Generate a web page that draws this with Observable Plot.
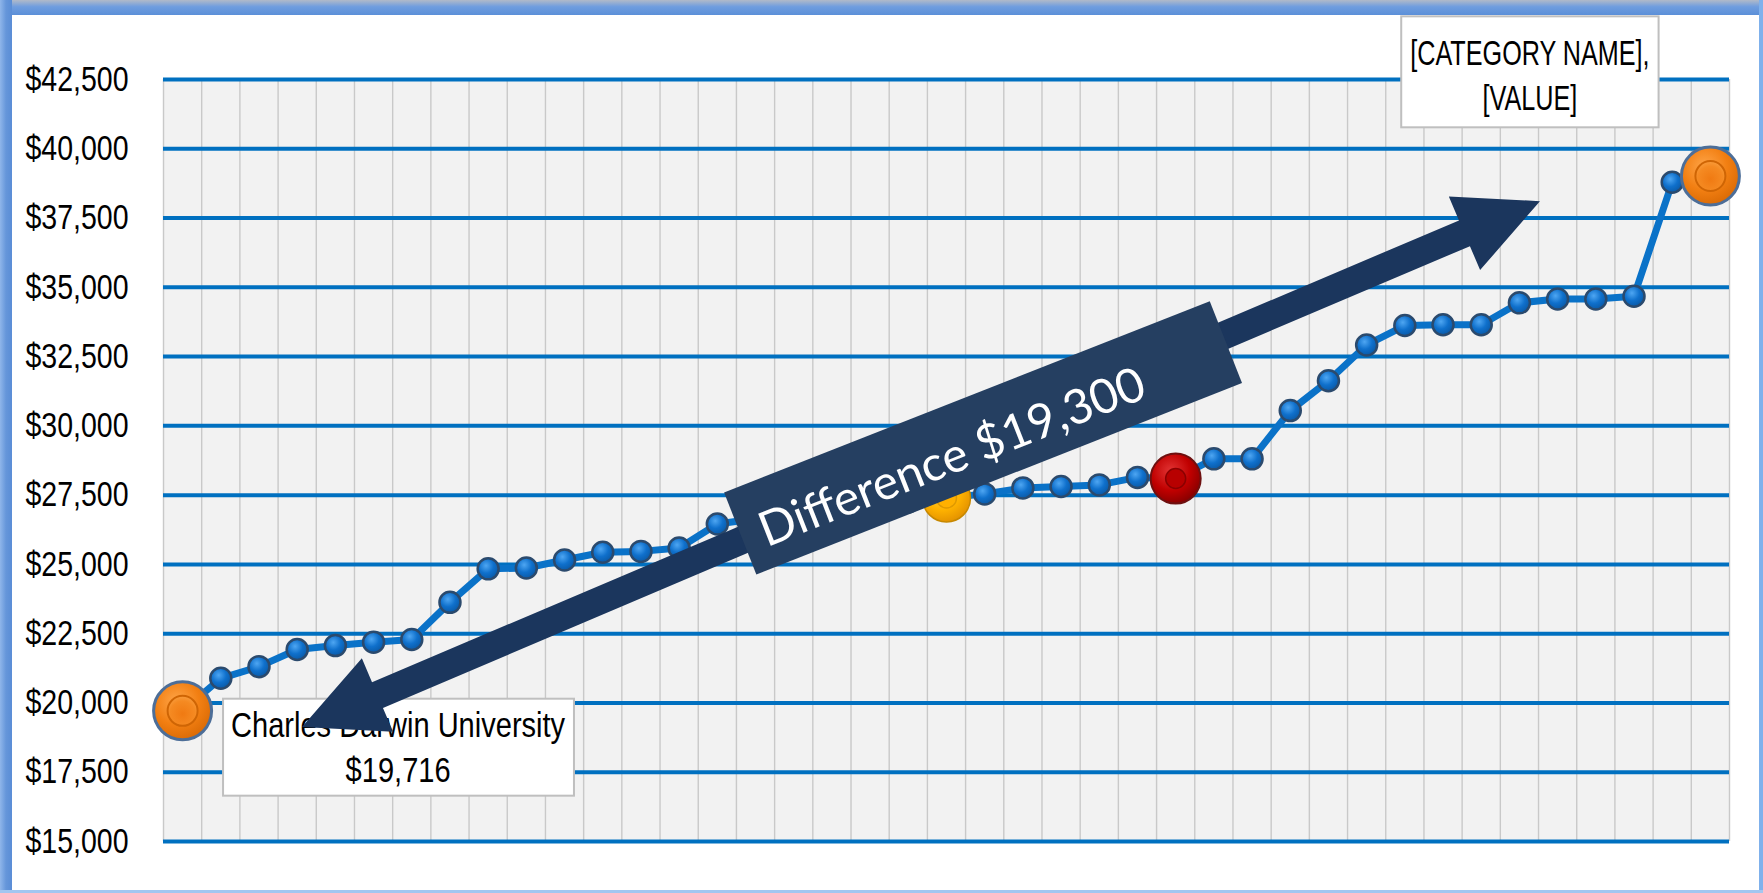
<!DOCTYPE html>
<html>
<head>
<meta charset="utf-8">
<script src="https://cdn.jsdelivr.net/npm/d3@7"></script>
<script src="https://cdn.jsdelivr.net/npm/@observablehq/plot@0.6"></script>
<style>
  html, body { margin: 0; padding: 0; background: #ffffff; overflow: hidden; }
  #chart svg { display: block; }
</style>
</head>
<body>
<div id="chart"></div>
<script>
// ---------------- data ----------------
const rank = [1, 2, 3, 4, 5, 6, 7, 8, 9, 10, 11, 12, 13, 14, 15, 16, 17, 18, 19, 20,
  21, 22, 23, 24, 25, 26, 27, 28, 29, 30, 31, 32, 33, 34, 35, 36, 37, 38, 39, 40, 41];
const salary = [19716, 20890, 21310, 21930, 22070, 22190, 22290, 23630, 24840, 24870,
  25160, 25440, 25470, 25590, 26460, 26650, 26800, 26950, 27100, 27250,
  27400, 27545, 27760, 27810, 27870, 28140, 28100, 28810, 28810, 30550,
  31630, 32920, 33620, 33650, 33650, 34440, 34580, 34580, 34680, 38790, 39016];
const yTicks = [15000, 17500, 20000, 22500, 25000, 27500, 30000, 32500, 35000, 37500, 40000, 42500];
const orangeRanks = [1, 41];
const yellowRanks = [21];
const redRanks = [27];
const calloutRanks = [1, 41];
const calloutTexts = ["Charles Darwin University\n$19,716", "[CATEGORY NAME],\n[VALUE]"];
const arrowFrom = {rank: 4.14, salary: 19110};
const arrowTo = {rank: 36.55, salary: 38090};
const bannerCenter = {rank: 21.97, salary: 29550};
const bannerText = "Difference $19,300";

// ---------------- layout / style ----------------
const W = 1763, H = 893;
const NARROW = "'Liberation Sans', Arial, sans-serif";
const TICK_SQUEEZE = 0.815;
const calloutDx = [216, -180];
const calloutDy = [35, -102];
const calloutSqueeze = [0.83, 0.72];
const calloutPadTop = [7, 17];
const calloutPadBottom = [6, 9];
const calloutPadX = [8, 9];

const data = rank.map((r, i) => ({rank: r, salary: salary[i]}));
const special = new Set([...orangeRanks, ...yellowRanks, ...redRanks]);
const blueData = data.filter(d => !special.has(d.rank));
const pick = rs => data.filter(d => rs.includes(d.rank));
const edges = rank.map(r => r - 0.5).concat([rank[rank.length - 1] + 0.5]);
const callouts = calloutRanks.map((r, i) => ({
  rank: r, salary: salary[rank.indexOf(r)], text: calloutTexts[i]
}));
const fmt = d3.format("$,");

const plot = Plot.plot({
  width: W,
  height: H,
  marginLeft: 163,
  marginRight: 34,
  marginTop: 79,
  marginBottom: 52,
  x: {type: "linear", domain: [edges[0], edges[edges.length - 1]], axis: null},
  y: {type: "linear", domain: [yTicks[0], yTicks[yTicks.length - 1]], axis: null},
  style: {background: "#ffffff", color: "#000000", fontFamily: NARROW, fontSize: "35px", overflow: "visible"},
  marks: [
    Plot.frame({fill: "#f2f2f2", stroke: null}),
    Plot.ruleX(edges, {x: d => d, stroke: "#c9c9c9", strokeWidth: 1.4}),
    Plot.ruleY(yTicks, {y: d => d, stroke: "#0070c0", strokeWidth: 4}),
    Plot.text(yTicks, {y: d => d, text: d => fmt(d), frameAnchor: "left",
      textAnchor: "end", dx: -35, fontSize: 35, fill: "#000000", fontFamily: NARROW}),
    Plot.line(data, {x: "rank", y: "salary", stroke: "#0a72c8", strokeWidth: 7, strokeLinejoin: "round"}),
    Plot.dot(blueData, {x: "rank", y: "salary", r: 10.5, fill: "url(#gBlue)", stroke: "#2b4a6d", strokeWidth: 2.5}),
    Plot.dot(pick(yellowRanks), {x: "rank", y: "salary", r: 24, fill: "url(#gYellow)", stroke: "#c78800", strokeWidth: 1.5}),
    Plot.dot(pick(yellowRanks), {x: "rank", y: "salary", r: 10, fill: "#ffb000", stroke: "#e09a00", strokeWidth: 1.5}),
    Plot.dot(pick(redRanks), {x: "rank", y: "salary", r: 25, fill: "url(#gRed)", stroke: "#6e1010", strokeWidth: 2}),
    Plot.dot(pick(redRanks), {x: "rank", y: "salary", r: 10, fill: "#b80000", stroke: "#8a0000", strokeWidth: 1.5}),
    Plot.dot(pick(orangeRanks), {x: "rank", y: "salary", r: 29, fill: "url(#gOrange)", stroke: "#4d6e98", strokeWidth: 3}),
    Plot.dot(pick(orangeRanks), {x: "rank", y: "salary", r: 15, fill: "url(#gOrangeIn)", stroke: "#cf6504", strokeWidth: 2}),
    Plot.text(callouts, {x: "rank", y: "salary", text: "text",
      fontSize: 35, lineHeight: 1.28, textAnchor: "middle", lineAnchor: "middle", fill: "#000000", fontFamily: NARROW})
  ]
});

document.getElementById("chart").appendChild(plot);

const svg = d3.select(plot);
const xs = plot.scale("x"), ys = plot.scale("y");
const X = v => xs.apply(v), Y = v => ys.apply(v);

// ---------- defs ----------
const defs = svg.insert("defs", ":first-child");
function radial(id, stops, cx = "40%", cy = "35%", r = "65%") {
  const g = defs.append("radialGradient").attr("id", id).attr("cx", cx).attr("cy", cy).attr("r", r);
  stops.forEach(([o, c]) => g.append("stop").attr("offset", o).attr("stop-color", c));
}
function linear(id, x2, y2, stops) {
  const g = defs.append("linearGradient").attr("id", id).attr("x1", 0).attr("y1", 0).attr("x2", x2).attr("y2", y2);
  stops.forEach(([o, c]) => g.append("stop").attr("offset", o).attr("stop-color", c));
}
radial("gBlue", [[0, "#4ea6f2"], [0.55, "#0f70cc"], [1, "#0a5aa8"]]);
radial("gOrange", [[0, "#ffa64a"], [0.6, "#f27f12"], [1, "#dc6c06"]]);
radial("gOrangeIn", [[0, "#f07a12"], [0.7, "#f58a22"], [1, "#f99c3c"]], "50%", "60%", "60%");
radial("gRed", [[0, "#e23434"], [0.6, "#c00000"], [1, "#8c0000"]]);
radial("gYellow", [[0, "#ffd850"], [0.6, "#ffb300"], [1, "#e69500"]]);
linear("gTop", 0, 1, [[0, "#b1bac9"], [0.45, "#6f9ddf"], [1, "#5b8fd8"]]);
linear("gLeft", 1, 0, [[0, "#8fb6ea"], [0.5, "#6596da"], [1, "#5a8dd6"]]);

// squeeze a text horizontally around its own anchor (condensed face look-alike)
function squeeze(node, s) {
  const xa = node.getAttribute("x");
  let x = 0;
  if (xa !== null && isFinite(+xa)) { x = +xa; node.removeAttribute("x"); }
  const t = node.getAttribute("transform") || "";
  node.setAttribute("transform", `${t} translate(${x},0) scale(${s},1)`);
}

// ---------- tick labels ----------
const tickStrings = yTicks.map(fmt);
svg.selectAll("text").each(function() {
  if (tickStrings.includes(this.textContent)) squeeze(this, TICK_SQUEEZE);
});

// ---------- callouts ----------
const calloutFlat = callouts.map(c => c.text.replace("\n", ""));
svg.selectAll("g").each(function() {
  const texts = d3.select(this).selectAll(":scope > text").nodes();
  if (texts.some(n => calloutFlat.includes(n.textContent))) this.removeAttribute("transform");
});
svg.selectAll("text").each(function() {
  const k = calloutFlat.indexOf(this.textContent);
  if (k < 0) return;
  const c = callouts[k];
  const s = calloutSqueeze[k];
  const tx = X(c.rank) + calloutDx[k], ty = Y(c.salary) + calloutDy[k];
  this.removeAttribute("x");
  this.removeAttribute("y");
  this.setAttribute("transform", `translate(${tx},${ty}) scale(${s},1)`);
  const bb = this.getBBox();
  const rect = document.createElementNS("http://www.w3.org/2000/svg", "rect");
  rect.setAttribute("x", tx + bb.x * s - calloutPadX[k]);
  rect.setAttribute("y", ty + bb.y - calloutPadTop[k]);
  rect.setAttribute("width", bb.width * s + 2 * calloutPadX[k]);
  rect.setAttribute("height", bb.height + calloutPadTop[k] + calloutPadBottom[k]);
  rect.setAttribute("fill", "#ffffff");
  rect.setAttribute("stroke", "#bfbfbf");
  rect.setAttribute("stroke-width", 2);
  this.parentNode.insertBefore(rect, this);
});

// ---------- double-headed arrow ----------
(function drawArrow() {
  const x1 = X(arrowFrom.rank), y1 = Y(arrowFrom.salary);
  const x2 = X(arrowTo.rank), y2 = Y(arrowTo.salary);
  const L = Math.hypot(x2 - x1, y2 - y1);
  const ux = (x2 - x1) / L, uy = (y2 - y1) / L;
  const nx = -uy, ny = ux;
  const hl = 82, hw = 40, sw = 14;
  const P = (bx, by, a, b) => [bx + ux * a + nx * b, by + uy * a + ny * b];
  const pts = [
    [x1, y1],
    P(x1, y1, hl, hw), P(x1, y1, hl, sw),
    P(x2, y2, -hl, sw), P(x2, y2, -hl, hw),
    [x2, y2],
    P(x2, y2, -hl, -hw), P(x2, y2, -hl, -sw),
    P(x1, y1, hl, -sw), P(x1, y1, hl, -hw)
  ];
  svg.append("polygon").attr("points", pts.map(p => p.join(",")).join(" ")).attr("fill", "#1b365d");
})();

// ---------- banner ----------
(function drawBanner() {
  const cx = X(bannerCenter.rank), cy = Y(bannerCenter.salary);
  const g = svg.append("g").attr("transform", `translate(${cx},${cy}) rotate(-21.5)`);
  g.append("rect").attr("x", -261).attr("y", -44).attr("width", 522).attr("height", 88).attr("fill", "#253f61");
  g.append("text").attr("x", -36).attr("y", 4).attr("text-anchor", "middle").attr("dominant-baseline", "central")
    .attr("fill", "#ffffff").attr("font-family", "Lato, 'Open Sans', 'Noto Sans', sans-serif")
    .attr("font-size", 48).text(bannerText);
})();

// ---------- window frame ----------
svg.append("rect").attr("x", 0).attr("y", 0).attr("width", W).attr("height", 15).attr("fill", "url(#gTop)");
svg.append("rect").attr("x", 0).attr("y", 0).attr("width", 12).attr("height", H).attr("fill", "url(#gLeft)");
svg.append("rect").attr("x", W - 4).attr("y", 0).attr("width", 4).attr("height", H).attr("fill", "#7fb1ec");
svg.append("rect").attr("x", 0).attr("y", H - 3).attr("width", W).attr("height", 3).attr("fill", "#a3c6f0");
</script>
</body>
</html>
